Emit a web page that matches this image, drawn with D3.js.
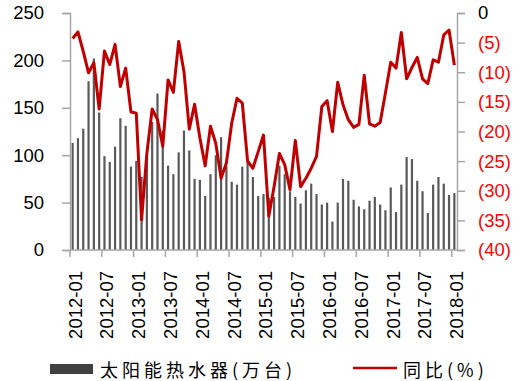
<!DOCTYPE html>
<html>
<head>
<meta charset="utf-8">
<script src="https://cdn.jsdelivr.net/npm/d3@7"></script>
<style>
  body { margin: 0; background: #fff; }
  svg { display: block; }
</style>
</head>
<body>
<svg id="chart" width="520" height="381"></svg>
<script>
// months 2012-01 .. 2018-01
const months = [
  "2012-01","2012-02","2012-03","2012-04","2012-05","2012-06","2012-07","2012-08","2012-09","2012-10","2012-11","2012-12",
  "2013-01","2013-02","2013-03","2013-04","2013-05","2013-06","2013-07","2013-08","2013-09","2013-10","2013-11","2013-12",
  "2014-01","2014-02","2014-03","2014-04","2014-05","2014-06","2014-07","2014-08","2014-09","2014-10","2014-11","2014-12",
  "2015-01","2015-02","2015-03","2015-04","2015-05","2015-06","2015-07","2015-08","2015-09","2015-10","2015-11","2015-12",
  "2016-01","2016-02","2016-03","2016-04","2016-05","2016-06","2016-07","2016-08","2016-09","2016-10","2016-11","2016-12",
  "2017-01","2017-02","2017-03","2017-04","2017-05","2017-06","2017-07","2017-08","2017-09","2017-10","2017-11","2017-12",
  "2018-01"
];

// 太阳能热水器 (万台)
const output = [
  113,118,128,178,202,145, 99,93,109,139,131,88,
  94,77,100,135,165,126, 89,80,103,126,105,75,
  74,57,80,100,119,88, 72,69,88,93,77,57,
  59,55,56,89,80,62, 56,49,63,70,59,48,
  50,30,50,75,73,53, 46,43,52,56,48,42,
  66,40,69,98,96,73, 62,39,69,77,70,58,
  60
];

// 同比 (%)
const yoy = [
  -4.3,-3.2,-6.5,-10.1,-8.4,-16.2, -6.4,-8.7,-5.3,-12.4,-9.3,-16.7,
  -16.9,-34.9,-23.7,-16.2,-18.0,-22.5, -11.3,-13.4,-4.8,-9.9,-19.6,-15.4,
  -21.1,-25.8,-19.1,-22.0,-27.9,-25.3, -18.6,-14.4,-15.2,-25.0,-26.2,-23.4,
  -20.6,-34.3,-29.3,-23.7,-25.6,-29.8, -21.5,-29.3,-27.9,-26.2,-24.2,-15.8,
  -14.8,-20.0,-11.7,-15.5,-18.0,-19.3, -18.8,-10.5,-18.7,-19.1,-18.5,-13.5,
  -8.3,-9.3,-3.3,-11.1,-9.2,-7.5, -11.1,-11.9,-7.9,-8.3,-3.7,-2.9,
  -8.8
];

const tickMonths = ["2012-01","2012-07","2013-01","2013-07","2014-01","2014-07","2015-01",
  "2015-07","2016-01","2016-07","2017-01","2017-07","2018-01"];
const leftTicks = [0, 50, 100, 150, 200, 250];
const rightTicks = [0, -5, -10, -15, -20, -25, -30, -35, -40];

const svg = d3.select("#chart");
const font = "'Liberation Sans', Arial, sans-serif";
const axisColor = "#a6a6a6";

const x = d3.scaleBand().domain(months).range([70, 457]);
const yL = d3.scaleLinear().domain([0, 250]).range([250, 13]);
const yR = d3.scaleLinear().domain([-40, 0]).range([250, 13]);

// bars
svg.append("g")
  .selectAll("rect")
  .data(output)
  .join("rect")
  .attr("x", (d, i) => x(months[i]) + x.bandwidth() / 2 - 1.1)
  .attr("y", d => yL(d))
  .attr("width", 2.2)
  .attr("height", d => yL(0) - yL(d))
  .attr("fill", "#595959");

// left axis
const gl = svg.append("g").attr("transform", "translate(70,0)")
  .call(d3.axisLeft(yL).tickValues(leftTicks).tickSize(8).tickPadding(18));
gl.select(".domain").attr("stroke", axisColor).attr("stroke-width", 1.5);
gl.selectAll(".tick line").attr("stroke", axisColor).attr("stroke-width", 1.5);
gl.selectAll("text").attr("font-family", font).attr("font-size", 18.5).attr("fill", "#000");

// right axis
const gr = svg.append("g").attr("transform", "translate(457,0)")
  .call(d3.axisRight(yR).tickValues(rightTicks).tickSize(8).tickPadding(13)
    .tickFormat(d => d === 0 ? "0" : "(" + Math.abs(d) + ")"));
gr.select(".domain").attr("stroke", axisColor).attr("stroke-width", 1.5);
gr.selectAll(".tick line").attr("stroke", axisColor).attr("stroke-width", 1.5);
gr.selectAll("text").attr("font-family", font).attr("font-size", 18.5)
  .attr("fill", d => d === 0 ? "#000" : "#ff0000");

// bottom axis
svg.append("line")
  .attr("x1", 70).attr("x2", 457).attr("y1", 250).attr("y2", 250)
  .attr("stroke", axisColor).attr("stroke-width", 1.5);
svg.append("g").selectAll("line")
  .data(tickMonths)
  .join("line")
  .attr("x1", d => x(d)).attr("x2", d => x(d))
  .attr("y1", 250).attr("y2", 257)
  .attr("stroke", axisColor).attr("stroke-width", 1.5);
svg.append("g").selectAll("text")
  .data(tickMonths)
  .join("text")
  .attr("transform", d => `translate(${x(d) + 5},271) rotate(-90)`)
  .attr("text-anchor", "end")
  .attr("dominant-baseline", "central")
  .attr("font-family", font)
  .attr("font-size", 18.5)
  .attr("fill", "#000")
  .text(d => d);

// yoy line
const line = d3.line()
  .x((d, i) => x(months[i]) + x.bandwidth() / 2)
  .y(d => yR(d));
svg.append("path")
  .datum(yoy)
  .attr("d", line)
  .attr("fill", "none")
  .attr("stroke", "#c00000")
  .attr("stroke-width", 3)
  .attr("stroke-linejoin", "round");

// legend
const cjk = "'Noto Sans CJK SC', sans-serif";
svg.append("rect").attr("x", 50).attr("y", 364).attr("width", 43).attr("height", 10).attr("fill", "#404040");
svg.append("text").attr("x", 100).attr("y", 369)
  .attr("dominant-baseline", "central")
  .attr("font-family", cjk).attr("font-size", 18).attr("letter-spacing", 4)
  .attr("fill", "#000")
  .text("太阳能热水器(万台)");
svg.append("line").attr("x1", 353).attr("x2", 397).attr("y1", 368).attr("y2", 368)
  .attr("stroke", "#c00000").attr("stroke-width", 2.5);
svg.append("text").attr("x", 403).attr("y", 369)
  .attr("dominant-baseline", "central")
  .attr("font-family", cjk).attr("font-size", 18).attr("letter-spacing", 4)
  .attr("fill", "#000")
  .text("同比(%)");
</script>
</body>
</html>
